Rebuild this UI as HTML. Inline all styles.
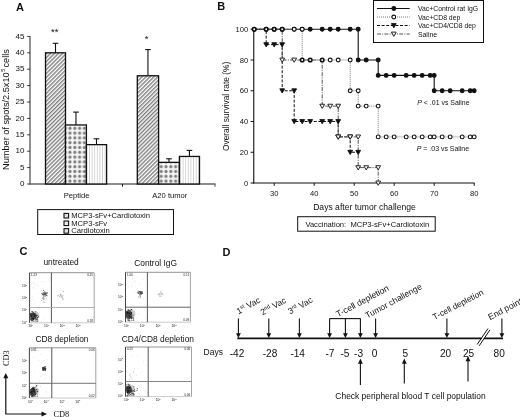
<!DOCTYPE html>
<html><head><meta charset="utf-8"><style>
html,body{margin:0;padding:0;background:#fff;}
svg{display:block;will-change:transform;}
text{font-family:"Liberation Sans", sans-serif;fill:#111;}
</style></head><body>
<svg width="520" height="417" viewBox="0 0 520 417">
<rect width="520" height="417" fill="#fff"/>
<defs>
<filter id="soft" x="-5%" y="-5%" width="110%" height="110%"><feGaussianBlur stdDeviation="0.35"/></filter>
<pattern id="hatch" patternUnits="userSpaceOnUse" width="2.8" height="2.8" patternTransform="rotate(45)">
<rect width="2.8" height="2.8" fill="#fff"/><line x1="0.7" y1="0" x2="0.7" y2="2.8" stroke="#7a7a7a" stroke-width="1.35"/></pattern>
<pattern id="dots" patternUnits="userSpaceOnUse" width="4.8" height="4.8" x="67.2" y="125.9">
<rect width="4.8" height="4.8" fill="#f6f6f6"/><circle cx="2.8" cy="2.4" r="1.6" fill="#808080"/></pattern>
<pattern id="vlines" patternUnits="userSpaceOnUse" width="2.6" height="4" x="88.2">
<rect width="2.6" height="4" fill="#fff"/><line x1="1.3" y1="0" x2="1.3" y2="4" stroke="#c8c8c8" stroke-width="0.8"/></pattern>
<pattern id="hatchs" patternUnits="userSpaceOnUse" width="2" height="2" patternTransform="rotate(45)">
<rect width="2" height="2" fill="#fff"/><line x1="0" y1="0" x2="0" y2="2" stroke="#666" stroke-width="0.9"/></pattern>
<pattern id="dotss" patternUnits="userSpaceOnUse" width="2" height="2"><rect width="2" height="2" fill="#fff"/><circle cx="1" cy="1" r="0.5" fill="#888"/></pattern>
<pattern id="vliness" patternUnits="userSpaceOnUse" width="1.6" height="2"><rect width="1.6" height="2" fill="#fff"/><line x1="0.8" y1="0" x2="0.8" y2="2" stroke="#aaa" stroke-width="0.6"/></pattern>
</defs>
<text x="16" y="11.4" font-size="11" font-weight="bold">A</text>
<line x1="30" y1="35.90" x2="30" y2="184.5" stroke="#555" stroke-width="1.3"/>
<line x1="27.2" y1="184.00" x2="30" y2="184.00" stroke="#333" stroke-width="1"/>
<text x="24.4" y="186.10" font-size="8" text-anchor="end">0</text>
<line x1="27.2" y1="167.60" x2="30" y2="167.60" stroke="#333" stroke-width="1"/>
<text x="24.4" y="169.70" font-size="8" text-anchor="end">5</text>
<line x1="27.2" y1="151.20" x2="30" y2="151.20" stroke="#333" stroke-width="1"/>
<text x="24.4" y="153.30" font-size="8" text-anchor="end">10</text>
<line x1="27.2" y1="134.80" x2="30" y2="134.80" stroke="#333" stroke-width="1"/>
<text x="24.4" y="136.90" font-size="8" text-anchor="end">15</text>
<line x1="27.2" y1="118.40" x2="30" y2="118.40" stroke="#333" stroke-width="1"/>
<text x="24.4" y="120.50" font-size="8" text-anchor="end">20</text>
<line x1="27.2" y1="102.00" x2="30" y2="102.00" stroke="#333" stroke-width="1"/>
<text x="24.4" y="104.10" font-size="8" text-anchor="end">25</text>
<line x1="27.2" y1="85.60" x2="30" y2="85.60" stroke="#333" stroke-width="1"/>
<text x="24.4" y="87.70" font-size="8" text-anchor="end">30</text>
<line x1="27.2" y1="69.20" x2="30" y2="69.20" stroke="#333" stroke-width="1"/>
<text x="24.4" y="71.30" font-size="8" text-anchor="end">35</text>
<line x1="27.2" y1="52.80" x2="30" y2="52.80" stroke="#333" stroke-width="1"/>
<text x="24.4" y="54.90" font-size="8" text-anchor="end">40</text>
<line x1="27.2" y1="36.40" x2="30" y2="36.40" stroke="#333" stroke-width="1"/>
<text x="24.4" y="38.50" font-size="8" text-anchor="end">45</text>
<line x1="29.5" y1="184" x2="215.5" y2="184" stroke="#666" stroke-width="1.3"/>
<line x1="122.5" y1="184" x2="122.5" y2="186.6" stroke="#111" stroke-width="1"/>
<line x1="215" y1="184" x2="215" y2="186.8" stroke="#555" stroke-width="1"/>
<text transform="translate(9.1,109.5) rotate(-90)" font-size="9.2" text-anchor="middle">Number of spots/2.5x10<tspan dy="-4" dx="0.6" font-size="5.6">5</tspan><tspan dy="4" dx="1.2">cells</tspan></text>
<line x1="55.50" y1="43.3" x2="55.50" y2="52.80" stroke="#111" stroke-width="1.1"/>
<line x1="52.70" y1="43.3" x2="58.30" y2="43.3" stroke="#111" stroke-width="1.1"/>
<rect x="45.5" y="52.80" width="20.00" height="131.20" fill="url(#hatch)" stroke="#111" stroke-width="1.3"/>
<line x1="75.95" y1="112.1" x2="75.95" y2="124.96" stroke="#111" stroke-width="1.1"/>
<line x1="73.15" y1="112.1" x2="78.75" y2="112.1" stroke="#111" stroke-width="1.1"/>
<rect x="65.5" y="124.96" width="20.90" height="59.04" fill="url(#dots)" stroke="#111" stroke-width="1.3"/>
<line x1="96.50" y1="138.8" x2="96.50" y2="144.64" stroke="#111" stroke-width="1.1"/>
<line x1="93.70" y1="138.8" x2="99.30" y2="138.8" stroke="#111" stroke-width="1.1"/>
<rect x="86.4" y="144.64" width="20.20" height="39.36" fill="url(#vlines)" stroke="#111" stroke-width="1.3"/>
<line x1="147.95" y1="49.6" x2="147.95" y2="75.76" stroke="#111" stroke-width="1.1"/>
<line x1="145.15" y1="49.6" x2="150.75" y2="49.6" stroke="#111" stroke-width="1.1"/>
<rect x="137.3" y="75.76" width="21.30" height="108.24" fill="url(#hatch)" stroke="#111" stroke-width="1.3"/>
<line x1="169.00" y1="158.8" x2="169.00" y2="162.35" stroke="#111" stroke-width="1.1"/>
<line x1="166.20" y1="158.8" x2="171.80" y2="158.8" stroke="#111" stroke-width="1.1"/>
<rect x="158.6" y="162.35" width="20.80" height="21.65" fill="url(#dots)" stroke="#111" stroke-width="1.3"/>
<line x1="189.45" y1="150.4" x2="189.45" y2="156.45" stroke="#111" stroke-width="1.1"/>
<line x1="186.65" y1="150.4" x2="192.25" y2="150.4" stroke="#111" stroke-width="1.1"/>
<rect x="179.4" y="156.45" width="20.10" height="27.55" fill="url(#vlines)" stroke="#111" stroke-width="1.3"/>
<text x="54.8" y="35.3" font-size="9.5" text-anchor="middle">**</text>
<text x="146.5" y="42.1" font-size="9.5" text-anchor="middle">*</text>
<text x="76.6" y="197.6" font-size="7.6" text-anchor="middle">Peptide</text>
<text x="169.8" y="197.8" font-size="7.6" text-anchor="middle">A20 tumor</text>
<rect x="37.7" y="209.6" width="135.8" height="24.9" fill="none" stroke="#111" stroke-width="1"/>
<rect x="64" y="213.40" width="4.6" height="4.6" fill="url(#hatchs)" stroke="#111" stroke-width="1.1"/>
<text x="71.3" y="218.20" font-size="7.6">MCP3-sFv+Cardiotoxin</text>
<rect x="64" y="221.00" width="4.6" height="4.6" fill="url(#dotss)" stroke="#111" stroke-width="1.1"/>
<text x="71.3" y="225.80" font-size="7.6">MCP3-sFv</text>
<rect x="64" y="228.60" width="4.6" height="4.6" fill="url(#vliness)" stroke="#111" stroke-width="1.1"/>
<text x="71.3" y="233.40" font-size="7.6">Cardiotoxin</text>
<text x="217.3" y="10.2" font-size="11" font-weight="bold">B</text>
<line x1="253.75" y1="28.75" x2="253.75" y2="183.5" stroke="#111" stroke-width="1.1"/>
<line x1="250.6" y1="183.00" x2="253.75" y2="183.00" stroke="#111" stroke-width="1"/>
<text x="248.2" y="185.70" font-size="7.6" text-anchor="end">0</text>
<line x1="250.6" y1="152.25" x2="253.75" y2="152.25" stroke="#111" stroke-width="1"/>
<text x="248.2" y="154.95" font-size="7.6" text-anchor="end">20</text>
<line x1="250.6" y1="121.50" x2="253.75" y2="121.50" stroke="#111" stroke-width="1"/>
<text x="248.2" y="124.20" font-size="7.6" text-anchor="end">40</text>
<line x1="250.6" y1="90.75" x2="253.75" y2="90.75" stroke="#111" stroke-width="1"/>
<text x="248.2" y="93.45" font-size="7.6" text-anchor="end">60</text>
<line x1="250.6" y1="60.00" x2="253.75" y2="60.00" stroke="#111" stroke-width="1"/>
<text x="248.2" y="62.70" font-size="7.6" text-anchor="end">80</text>
<line x1="250.6" y1="29.25" x2="253.75" y2="29.25" stroke="#111" stroke-width="1"/>
<text x="248.2" y="31.95" font-size="7.6" text-anchor="end">100</text>
<line x1="253.25" y1="183" x2="474.6" y2="183" stroke="#111" stroke-width="1.1"/>
<line x1="274.20" y1="183" x2="274.20" y2="185.8" stroke="#111" stroke-width="1"/>
<text x="274.20" y="196" font-size="7.6" text-anchor="middle">30</text>
<line x1="314.20" y1="183" x2="314.20" y2="185.8" stroke="#111" stroke-width="1"/>
<text x="314.20" y="196" font-size="7.6" text-anchor="middle">40</text>
<line x1="354.20" y1="183" x2="354.20" y2="185.8" stroke="#111" stroke-width="1"/>
<text x="354.20" y="196" font-size="7.6" text-anchor="middle">50</text>
<line x1="394.20" y1="183" x2="394.20" y2="185.8" stroke="#111" stroke-width="1"/>
<text x="394.20" y="196" font-size="7.6" text-anchor="middle">60</text>
<line x1="434.20" y1="183" x2="434.20" y2="185.8" stroke="#111" stroke-width="1"/>
<text x="434.20" y="196" font-size="7.6" text-anchor="middle">70</text>
<line x1="474.20" y1="183" x2="474.20" y2="185.8" stroke="#111" stroke-width="1"/>
<text x="474.20" y="196" font-size="7.6" text-anchor="middle">80</text>
<text transform="translate(229.2,106.4) rotate(-90)" font-size="8.4" text-anchor="middle">Overall survival rate (%)</text>
<text x="364.5" y="209.6" font-size="8.6" text-anchor="middle">Days after tumor challenge</text>
<rect x="297.7" y="216.7" width="137.5" height="14.5" fill="none" stroke="#111" stroke-width="1"/>
<text x="305.4" y="226.7" font-size="7.6" xml:space="preserve">Vaccination:  MCP3-sFv+Cardiotoxin</text>
<text x="417.3" y="105.1" font-size="6.95"><tspan font-style="italic">P</tspan> &lt; .01 vs Saline</text>
<text x="416.8" y="151" font-size="6.95"><tspan font-style="italic">P</tspan> = .03 vs Saline</text>
<path d="M254.20,29.25 H266.20 V44.62 H274.20 H282.20 V90.75 H294.20 V121.50 H302.20 H310.20 H322.20 H330.20 H338.20 V136.88 H350.20 V152.25 H358.20" fill="none" stroke="#111" stroke-width="1" stroke-dasharray="3,1.6"/>
<path d="M254.20,29.25 H266.20 H274.20 H282.20 V60.00 H294.20 H302.20 H310.20 H322.20 V106.12 H330.20 H338.20 V136.88 H350.20 H358.20 V167.62 H366.20 H378.20 V183.00" fill="none" stroke="#555" stroke-width="1" stroke-dasharray="4,1.2,1,1.2"/>
<path d="M254.20,29.25 H266.20 H274.20 H282.20 H294.20 H302.20 H310.20 H322.20 H330.20 H338.20 H350.20 H358.20 V60.00 H366.20 H378.20 V75.38 H386.20 H394.20 H406.20 H414.20 H422.20 H430.20 H434.20 V90.75 H442.20 H450.20 H462.20 H470.20 H474.20" fill="none" stroke="#111" stroke-width="1.1"/>
<path d="M254.20,29.25 H266.20 H274.20 H282.20 H294.20 H302.20 V60.00 H310.20 H322.20 H330.20 H338.20 H350.20 V90.75 H358.20 V106.12 H366.20 H378.20 V136.88 H386.20 H394.20 H406.20 H414.20 H422.20 H430.20 H434.20 H442.20 H450.20 H462.20 H470.20 H474.20" fill="none" stroke="#777" stroke-width="1" stroke-dasharray="1,1"/>
<path d="M263.80,42.73 H268.60 L266.20,46.92 Z" fill="#111" stroke="#111" stroke-width="0.9"/>
<path d="M271.80,42.73 H276.60 L274.20,46.92 Z" fill="#111" stroke="#111" stroke-width="0.9"/>
<path d="M279.80,42.73 H284.60 L282.20,46.92 Z" fill="#111" stroke="#111" stroke-width="0.9"/>
<path d="M279.80,88.85 H284.60 L282.20,93.05 Z" fill="#111" stroke="#111" stroke-width="0.9"/>
<path d="M291.80,88.85 H296.60 L294.20,93.05 Z" fill="#111" stroke="#111" stroke-width="0.9"/>
<path d="M291.80,119.60 H296.60 L294.20,123.80 Z" fill="#111" stroke="#111" stroke-width="0.9"/>
<path d="M299.80,119.60 H304.60 L302.20,123.80 Z" fill="#111" stroke="#111" stroke-width="0.9"/>
<path d="M307.80,119.60 H312.60 L310.20,123.80 Z" fill="#111" stroke="#111" stroke-width="0.9"/>
<path d="M319.80,119.60 H324.60 L322.20,123.80 Z" fill="#111" stroke="#111" stroke-width="0.9"/>
<path d="M327.80,119.60 H332.60 L330.20,123.80 Z" fill="#111" stroke="#111" stroke-width="0.9"/>
<path d="M335.80,119.60 H340.60 L338.20,123.80 Z" fill="#111" stroke="#111" stroke-width="0.9"/>
<path d="M335.80,134.97 H340.60 L338.20,139.18 Z" fill="#111" stroke="#111" stroke-width="0.9"/>
<path d="M347.80,134.97 H352.60 L350.20,139.18 Z" fill="#111" stroke="#111" stroke-width="0.9"/>
<path d="M347.80,150.35 H352.60 L350.20,154.55 Z" fill="#111" stroke="#111" stroke-width="0.9"/>
<path d="M355.80,150.35 H360.60 L358.20,154.55 Z" fill="#111" stroke="#111" stroke-width="0.9"/>
<path d="M279.80,58.10 H284.60 L282.20,62.30 Z" fill="#fff" stroke="#111" stroke-width="0.9"/>
<path d="M291.80,58.10 H296.60 L294.20,62.30 Z" fill="#fff" stroke="#111" stroke-width="0.9"/>
<path d="M319.80,104.22 H324.60 L322.20,108.42 Z" fill="#fff" stroke="#111" stroke-width="0.9"/>
<path d="M327.80,104.22 H332.60 L330.20,108.42 Z" fill="#fff" stroke="#111" stroke-width="0.9"/>
<path d="M335.80,104.22 H340.60 L338.20,108.42 Z" fill="#fff" stroke="#111" stroke-width="0.9"/>
<path d="M335.80,134.97 H340.60 L338.20,139.18 Z" fill="#fff" stroke="#111" stroke-width="0.9"/>
<path d="M347.80,134.97 H352.60 L350.20,139.18 Z" fill="#fff" stroke="#111" stroke-width="0.9"/>
<path d="M355.80,134.97 H360.60 L358.20,139.18 Z" fill="#fff" stroke="#111" stroke-width="0.9"/>
<path d="M355.80,165.72 H360.60 L358.20,169.93 Z" fill="#fff" stroke="#111" stroke-width="0.9"/>
<path d="M363.80,165.72 H368.60 L366.20,169.93 Z" fill="#fff" stroke="#111" stroke-width="0.9"/>
<path d="M375.80,165.72 H380.60 L378.20,169.93 Z" fill="#fff" stroke="#111" stroke-width="0.9"/>
<path d="M375.80,181.10 H380.60 L378.20,185.30 Z" fill="#fff" stroke="#111" stroke-width="0.9"/>
<circle cx="254.20" cy="29.25" r="1.9" fill="#111" stroke="#111" stroke-width="1.1"/>
<circle cx="266.20" cy="29.25" r="1.9" fill="#111" stroke="#111" stroke-width="1.1"/>
<circle cx="274.20" cy="29.25" r="1.9" fill="#111" stroke="#111" stroke-width="1.1"/>
<circle cx="282.20" cy="29.25" r="1.9" fill="#111" stroke="#111" stroke-width="1.1"/>
<circle cx="294.20" cy="29.25" r="1.9" fill="#111" stroke="#111" stroke-width="1.1"/>
<circle cx="302.20" cy="29.25" r="1.9" fill="#111" stroke="#111" stroke-width="1.1"/>
<circle cx="310.20" cy="29.25" r="1.9" fill="#111" stroke="#111" stroke-width="1.1"/>
<circle cx="322.20" cy="29.25" r="1.9" fill="#111" stroke="#111" stroke-width="1.1"/>
<circle cx="330.20" cy="29.25" r="1.9" fill="#111" stroke="#111" stroke-width="1.1"/>
<circle cx="338.20" cy="29.25" r="1.9" fill="#111" stroke="#111" stroke-width="1.1"/>
<circle cx="350.20" cy="29.25" r="1.9" fill="#111" stroke="#111" stroke-width="1.1"/>
<circle cx="358.20" cy="29.25" r="1.9" fill="#111" stroke="#111" stroke-width="1.1"/>
<circle cx="358.20" cy="60.00" r="1.9" fill="#111" stroke="#111" stroke-width="1.1"/>
<circle cx="366.20" cy="60.00" r="1.9" fill="#111" stroke="#111" stroke-width="1.1"/>
<circle cx="378.20" cy="60.00" r="1.9" fill="#111" stroke="#111" stroke-width="1.1"/>
<circle cx="378.20" cy="75.38" r="1.9" fill="#111" stroke="#111" stroke-width="1.1"/>
<circle cx="386.20" cy="75.38" r="1.9" fill="#111" stroke="#111" stroke-width="1.1"/>
<circle cx="394.20" cy="75.38" r="1.9" fill="#111" stroke="#111" stroke-width="1.1"/>
<circle cx="406.20" cy="75.38" r="1.9" fill="#111" stroke="#111" stroke-width="1.1"/>
<circle cx="414.20" cy="75.38" r="1.9" fill="#111" stroke="#111" stroke-width="1.1"/>
<circle cx="422.20" cy="75.38" r="1.9" fill="#111" stroke="#111" stroke-width="1.1"/>
<circle cx="430.20" cy="75.38" r="1.9" fill="#111" stroke="#111" stroke-width="1.1"/>
<circle cx="434.20" cy="75.38" r="1.9" fill="#111" stroke="#111" stroke-width="1.1"/>
<circle cx="434.20" cy="90.75" r="1.9" fill="#111" stroke="#111" stroke-width="1.1"/>
<circle cx="442.20" cy="90.75" r="1.9" fill="#111" stroke="#111" stroke-width="1.1"/>
<circle cx="450.20" cy="90.75" r="1.9" fill="#111" stroke="#111" stroke-width="1.1"/>
<circle cx="462.20" cy="90.75" r="1.9" fill="#111" stroke="#111" stroke-width="1.1"/>
<circle cx="470.20" cy="90.75" r="1.9" fill="#111" stroke="#111" stroke-width="1.1"/>
<circle cx="474.20" cy="90.75" r="1.9" fill="#111" stroke="#111" stroke-width="1.1"/>
<circle cx="254.20" cy="29.25" r="1.75" fill="#fff" stroke="#111" stroke-width="1.6"/>
<circle cx="266.20" cy="29.25" r="1.75" fill="#fff" stroke="#111" stroke-width="1.6"/>
<circle cx="274.20" cy="29.25" r="1.75" fill="#fff" stroke="#111" stroke-width="1.6"/>
<circle cx="282.20" cy="29.25" r="1.75" fill="#fff" stroke="#111" stroke-width="1.6"/>
<circle cx="294.20" cy="29.25" r="1.9" fill="#fff" stroke="#111" stroke-width="1.1"/>
<circle cx="302.20" cy="29.25" r="1.9" fill="#fff" stroke="#111" stroke-width="1.1"/>
<circle cx="302.20" cy="60.00" r="1.75" fill="#fff" stroke="#111" stroke-width="1.6"/>
<circle cx="310.20" cy="60.00" r="1.75" fill="#fff" stroke="#111" stroke-width="1.6"/>
<circle cx="322.20" cy="60.00" r="1.75" fill="#fff" stroke="#111" stroke-width="1.6"/>
<circle cx="330.20" cy="60.00" r="1.9" fill="#fff" stroke="#111" stroke-width="1.1"/>
<circle cx="338.20" cy="60.00" r="1.9" fill="#fff" stroke="#111" stroke-width="1.1"/>
<circle cx="350.20" cy="60.00" r="1.9" fill="#fff" stroke="#111" stroke-width="1.1"/>
<circle cx="350.20" cy="90.75" r="1.9" fill="#fff" stroke="#111" stroke-width="1.1"/>
<circle cx="358.20" cy="90.75" r="1.9" fill="#fff" stroke="#111" stroke-width="1.1"/>
<circle cx="358.20" cy="106.12" r="1.9" fill="#fff" stroke="#111" stroke-width="1.1"/>
<circle cx="366.20" cy="106.12" r="1.9" fill="#fff" stroke="#111" stroke-width="1.1"/>
<circle cx="378.20" cy="106.12" r="1.9" fill="#fff" stroke="#111" stroke-width="1.1"/>
<circle cx="378.20" cy="136.88" r="1.9" fill="#fff" stroke="#111" stroke-width="1.1"/>
<circle cx="386.20" cy="136.88" r="1.9" fill="#fff" stroke="#111" stroke-width="1.1"/>
<circle cx="394.20" cy="136.88" r="1.9" fill="#fff" stroke="#111" stroke-width="1.1"/>
<circle cx="406.20" cy="136.88" r="1.9" fill="#fff" stroke="#111" stroke-width="1.1"/>
<circle cx="414.20" cy="136.88" r="1.9" fill="#fff" stroke="#111" stroke-width="1.1"/>
<circle cx="422.20" cy="136.88" r="1.9" fill="#fff" stroke="#111" stroke-width="1.1"/>
<circle cx="430.20" cy="136.88" r="1.9" fill="#fff" stroke="#111" stroke-width="1.1"/>
<circle cx="434.20" cy="136.88" r="1.9" fill="#fff" stroke="#111" stroke-width="1.1"/>
<circle cx="442.20" cy="136.88" r="1.9" fill="#fff" stroke="#111" stroke-width="1.1"/>
<circle cx="450.20" cy="136.88" r="1.9" fill="#fff" stroke="#111" stroke-width="1.1"/>
<circle cx="462.20" cy="136.88" r="1.9" fill="#fff" stroke="#111" stroke-width="1.1"/>
<circle cx="470.20" cy="136.88" r="1.9" fill="#fff" stroke="#111" stroke-width="1.1"/>
<circle cx="474.20" cy="136.88" r="1.9" fill="#fff" stroke="#111" stroke-width="1.1"/>
<rect x="373.5" y="0.5" width="110" height="42" fill="#fff" stroke="#111" stroke-width="1"/>
<line x1="377" y1="8.5" x2="409.7" y2="8.5" stroke="#111" stroke-width="1.1"/>
<circle cx="393.80" cy="8.50" r="1.9" fill="#111" stroke="#111" stroke-width="1.1"/>
<text x="418" y="11.20" font-size="6.85">Vac+Control rat IgG</text>
<line x1="377" y1="17.0" x2="409.7" y2="17.0" stroke="#777" stroke-width="1" stroke-dasharray="1,1"/>
<circle cx="393.80" cy="17.00" r="1.9" fill="#fff" stroke="#111" stroke-width="1.1"/>
<text x="418" y="19.70" font-size="6.85">Vac+CD8 dep</text>
<line x1="377" y1="25.5" x2="409.7" y2="25.5" stroke="#111" stroke-width="1" stroke-dasharray="3,1.6"/>
<path d="M391.40,23.60 H396.20 L393.80,27.80 Z" fill="#111" stroke="#111" stroke-width="0.9"/>
<text x="418" y="28.20" font-size="6.85">Vac+CD4/CD8 dep</text>
<line x1="377" y1="34.0" x2="409.7" y2="34.0" stroke="#555" stroke-width="1" stroke-dasharray="4,1.2,1,1.2"/>
<path d="M391.40,32.10 H396.20 L393.80,36.30 Z" fill="#fff" stroke="#111" stroke-width="0.9"/>
<text x="418" y="36.70" font-size="6.85">Saline</text>
<text x="19.4" y="255.2" font-size="11" font-weight="bold">C</text>
<text x="61.1" y="264.8" font-size="8.4" text-anchor="middle">untreated</text>
<g filter="url(#soft)">
<line x1="29.6" y1="272.7" x2="94.2" y2="272.7" stroke="#888" stroke-width="0.9"/>
<line x1="94.2" y1="272.7" x2="94.2" y2="322.8" stroke="#999" stroke-width="0.9"/>
<line x1="29.6" y1="322.8" x2="94.2" y2="322.8" stroke="#bbb" stroke-width="0.8"/>
<line x1="29.6" y1="272.7" x2="29.6" y2="322.8" stroke="#444" stroke-width="1"/>
<line x1="51.4" y1="272.7" x2="51.4" y2="322.8" stroke="#555" stroke-width="1"/>
<line x1="29.6" y1="307.5" x2="94.2" y2="307.5" stroke="#aaa" stroke-width="0.9"/>
<rect x="37.4" y="284.9" width="0.7" height="0.7" fill="#ccc"/>
<rect x="43.2" y="281.7" width="0.7" height="0.7" fill="#ccc"/>
<rect x="41.1" y="293.7" width="0.7" height="0.7" fill="#ccc"/>
<rect x="32.6" y="299.6" width="0.7" height="0.7" fill="#ccc"/>
<rect x="32.3" y="296.5" width="0.7" height="0.7" fill="#ccc"/>
<rect x="32.8" y="282.4" width="0.7" height="0.7" fill="#ccc"/>
<rect x="39.2" y="312.7" width="0.7" height="0.7" fill="#ccc"/>
<rect x="33.8" y="287.9" width="0.7" height="0.7" fill="#ccc"/>
<rect x="42.8" y="317.7" width="0.7" height="0.7" fill="#ccc"/>
<rect x="41.9" y="295.0" width="0.7" height="0.7" fill="#ccc"/>
<rect x="49.0" y="280.6" width="0.7" height="0.7" fill="#ccc"/>
<rect x="46.9" y="290.6" width="0.7" height="0.7" fill="#ccc"/>
<rect x="34.2" y="283.5" width="0.7" height="0.7" fill="#ccc"/>
<rect x="37.1" y="312.2" width="0.7" height="0.7" fill="#ccc"/>
<rect x="34.8" y="302.6" width="0.7" height="0.7" fill="#ccc"/>
<rect x="43.0" y="294.0" width="0.7" height="0.7" fill="#ccc"/>
<rect x="41.3" y="281.3" width="0.7" height="0.7" fill="#ccc"/>
<rect x="32.7" y="287.2" width="0.7" height="0.7" fill="#ccc"/>
<clipPath id="cp0"><rect x="29.6" y="272.7" width="64.60" height="50.10"/></clipPath><g clip-path="url(#cp0)">
<ellipse cx="34.800000000000004" cy="315.3" rx="4.6" ry="4.0" fill="#888" opacity="0.4"/>
<ellipse cx="32.800000000000004" cy="316.3" rx="3.6" ry="3.2" fill="#333" opacity="0.7"/>
<rect x="31.5" y="313.5" width="1" height="1" fill="#333"/><rect x="36.8" y="317.0" width="1" height="1" fill="#333"/><rect x="31.8" y="319.9" width="1" height="1" fill="#222"/><rect x="32.4" y="316.8" width="1" height="1" fill="#444"/><rect x="33.6" y="313.1" width="1" height="1" fill="#333"/><rect x="31.1" y="315.2" width="1" height="1" fill="#666"/><rect x="34.6" y="317.8" width="1" height="1" fill="#222"/><rect x="33.1" y="314.8" width="1" height="1" fill="#111"/><rect x="30.6" y="312.7" width="1" height="1" fill="#333"/><rect x="31.7" y="317.7" width="1" height="1" fill="#444"/><rect x="33.1" y="314.5" width="1" height="1" fill="#111"/><rect x="33.4" y="314.9" width="1" height="1" fill="#111"/><rect x="34.5" y="317.2" width="1" height="1" fill="#666"/><rect x="35.8" y="315.6" width="1" height="1" fill="#333"/><rect x="31.5" y="310.9" width="1" height="1" fill="#333"/><rect x="33.5" y="316.2" width="1" height="1" fill="#222"/><rect x="32.9" y="314.0" width="1" height="1" fill="#222"/><rect x="30.4" y="314.5" width="1" height="1" fill="#222"/><rect x="35.6" y="319.0" width="1" height="1" fill="#444"/><rect x="33.1" y="317.1" width="1" height="1" fill="#666"/><rect x="30.5" y="317.1" width="1" height="1" fill="#444"/><rect x="31.8" y="314.3" width="1" height="1" fill="#444"/><rect x="34.7" y="315.5" width="1" height="1" fill="#444"/><rect x="31.9" y="315.4" width="1" height="1" fill="#222"/><rect x="32.8" y="318.7" width="1" height="1" fill="#111"/><rect x="34.2" y="316.1" width="1" height="1" fill="#333"/><rect x="30.5" y="317.1" width="1" height="1" fill="#666"/><rect x="32.8" y="318.1" width="1" height="1" fill="#222"/><rect x="31.5" y="313.1" width="1" height="1" fill="#666"/><rect x="33.0" y="312.5" width="1" height="1" fill="#444"/><rect x="34.4" y="313.3" width="1" height="1" fill="#666"/><rect x="32.6" y="317.3" width="1" height="1" fill="#111"/><rect x="33.2" y="316.1" width="1" height="1" fill="#222"/><rect x="32.1" y="316.5" width="1" height="1" fill="#222"/><rect x="33.3" y="317.9" width="1" height="1" fill="#111"/><rect x="31.9" y="315.8" width="1" height="1" fill="#111"/><rect x="34.1" y="314.8" width="1" height="1" fill="#111"/><rect x="33.1" y="313.4" width="1" height="1" fill="#222"/><rect x="35.2" y="311.3" width="1" height="1" fill="#666"/><rect x="31.2" y="316.7" width="1" height="1" fill="#444"/><rect x="33.6" y="315.7" width="1" height="1" fill="#444"/><rect x="30.8" y="317.0" width="1" height="1" fill="#333"/><rect x="30.4" y="313.1" width="1" height="1" fill="#222"/><rect x="32.2" y="315.6" width="1" height="1" fill="#666"/><rect x="33.2" y="318.6" width="1" height="1" fill="#111"/><rect x="30.3" y="313.8" width="1" height="1" fill="#111"/><rect x="31.0" y="314.0" width="1" height="1" fill="#333"/><rect x="32.6" y="314.6" width="1" height="1" fill="#222"/><rect x="35.3" y="315.0" width="1" height="1" fill="#333"/><rect x="32.9" y="313.3" width="1" height="1" fill="#222"/><rect x="32.1" y="311.6" width="1" height="1" fill="#222"/><rect x="31.3" y="318.5" width="1" height="1" fill="#111"/><rect x="35.5" y="315.5" width="1" height="1" fill="#444"/><rect x="30.5" y="319.5" width="1" height="1" fill="#333"/><rect x="36.9" y="317.6" width="1" height="1" fill="#333"/><rect x="32.9" y="315.2" width="1" height="1" fill="#222"/><rect x="32.9" y="317.4" width="1" height="1" fill="#333"/><rect x="31.4" y="319.0" width="1" height="1" fill="#666"/><rect x="32.0" y="313.5" width="1" height="1" fill="#333"/><rect x="30.6" y="314.8" width="1" height="1" fill="#111"/><rect x="34.6" y="313.5" width="1" height="1" fill="#222"/><rect x="32.1" y="316.0" width="1" height="1" fill="#333"/><rect x="36.4" y="318.8" width="1" height="1" fill="#444"/><rect x="35.0" y="316.7" width="1" height="1" fill="#111"/><rect x="30.5" y="314.4" width="1" height="1" fill="#222"/><rect x="34.2" y="316.4" width="1" height="1" fill="#444"/><rect x="30.8" y="314.5" width="1" height="1" fill="#666"/><rect x="34.6" y="315.4" width="1" height="1" fill="#333"/><rect x="32.3" y="318.3" width="1" height="1" fill="#111"/><rect x="38.1" y="316.4" width="1" height="1" fill="#111"/><rect x="37.1" y="314.9" width="1" height="1" fill="#444"/><rect x="32.2" y="315.7" width="1" height="1" fill="#222"/><rect x="32.2" y="316.1" width="1" height="1" fill="#666"/><rect x="30.4" y="319.0" width="1" height="1" fill="#333"/><rect x="35.7" y="314.5" width="1" height="1" fill="#111"/><rect x="32.6" y="314.6" width="1" height="1" fill="#444"/><rect x="33.1" y="312.0" width="1" height="1" fill="#666"/><rect x="36.1" y="318.4" width="1" height="1" fill="#666"/><rect x="31.4" y="316.8" width="1" height="1" fill="#666"/><rect x="33.4" y="316.1" width="1" height="1" fill="#222"/><rect x="34.2" y="313.2" width="1" height="1" fill="#222"/><rect x="31.8" y="318.2" width="1" height="1" fill="#111"/><rect x="32.7" y="315.1" width="1" height="1" fill="#666"/><rect x="33.6" y="315.3" width="1" height="1" fill="#111"/><rect x="31.0" y="315.3" width="1" height="1" fill="#222"/><rect x="31.1" y="319.9" width="1" height="1" fill="#666"/><rect x="30.9" y="316.0" width="1" height="1" fill="#111"/><rect x="34.1" y="317.0" width="1" height="1" fill="#666"/><rect x="31.8" y="314.8" width="1" height="1" fill="#333"/><rect x="33.7" y="316.7" width="1" height="1" fill="#444"/>
</g>
<ellipse cx="44.7" cy="293.8" rx="2.8" ry="1.8" fill="#999" opacity="0.8"/>
<rect x="43.2" y="293.5" width="0.9" height="0.9" fill="#555" opacity="1.0"/><rect x="41.4" y="293.2" width="0.9" height="0.9" fill="#555" opacity="1.0"/><rect x="47.1" y="292.4" width="0.9" height="0.9" fill="#555" opacity="1.0"/><rect x="45.0" y="293.0" width="0.9" height="0.9" fill="#555" opacity="1.0"/><rect x="42.9" y="294.0" width="0.9" height="0.9" fill="#555" opacity="1.0"/><rect x="43.3" y="294.2" width="0.9" height="0.9" fill="#555" opacity="1.0"/><rect x="43.5" y="292.4" width="0.9" height="0.9" fill="#555" opacity="1.0"/><rect x="44.5" y="294.5" width="0.9" height="0.9" fill="#555" opacity="1.0"/><rect x="46.0" y="295.0" width="0.9" height="0.9" fill="#555" opacity="1.0"/><rect x="46.1" y="292.9" width="0.9" height="0.9" fill="#555" opacity="1.0"/><rect x="43.5" y="294.2" width="0.9" height="0.9" fill="#555" opacity="1.0"/><rect x="45.3" y="294.6" width="0.9" height="0.9" fill="#555" opacity="1.0"/><rect x="44.2" y="293.0" width="0.9" height="0.9" fill="#555" opacity="1.0"/><rect x="44.9" y="293.1" width="0.9" height="0.9" fill="#555" opacity="1.0"/><rect x="43.8" y="292.8" width="0.9" height="0.9" fill="#555" opacity="1.0"/><rect x="43.0" y="289.9" width="0.9" height="0.9" fill="#555" opacity="1.0"/><rect x="43.0" y="294.3" width="0.9" height="0.9" fill="#555" opacity="1.0"/><rect x="43.9" y="294.0" width="0.9" height="0.9" fill="#555" opacity="1.0"/><rect x="43.4" y="294.4" width="0.9" height="0.9" fill="#555" opacity="1.0"/><rect x="42.1" y="294.0" width="0.9" height="0.9" fill="#555" opacity="1.0"/><rect x="43.0" y="294.5" width="0.9" height="0.9" fill="#555" opacity="1.0"/><rect x="43.2" y="296.5" width="0.9" height="0.9" fill="#555" opacity="1.0"/><rect x="46.6" y="295.3" width="0.9" height="0.9" fill="#555" opacity="1.0"/><rect x="44.6" y="296.0" width="0.9" height="0.9" fill="#555" opacity="1.0"/><rect x="45.2" y="294.0" width="0.9" height="0.9" fill="#555" opacity="1.0"/><rect x="45.0" y="293.1" width="0.9" height="0.9" fill="#555" opacity="1.0"/><rect x="44.3" y="291.3" width="0.9" height="0.9" fill="#555" opacity="1.0"/><rect x="45.5" y="292.1" width="0.9" height="0.9" fill="#555" opacity="1.0"/><rect x="45.6" y="293.1" width="0.9" height="0.9" fill="#555" opacity="1.0"/><rect x="42.6" y="293.2" width="0.9" height="0.9" fill="#555" opacity="1.0"/>
<rect x="42.2" y="298.1" width="0.9" height="0.9" fill="#999" opacity="1.0"/><rect x="42.8" y="301.6" width="0.9" height="0.9" fill="#999" opacity="1.0"/><rect x="43.8" y="301.9" width="0.9" height="0.9" fill="#999" opacity="1.0"/><rect x="43.0" y="298.4" width="0.9" height="0.9" fill="#999" opacity="1.0"/><rect x="43.6" y="298.9" width="0.9" height="0.9" fill="#999" opacity="1.0"/><rect x="42.6" y="297.2" width="0.9" height="0.9" fill="#999" opacity="1.0"/><rect x="43.0" y="299.1" width="0.9" height="0.9" fill="#999" opacity="1.0"/><rect x="45.9" y="298.5" width="0.9" height="0.9" fill="#999" opacity="1.0"/><rect x="41.3" y="300.2" width="0.9" height="0.9" fill="#999" opacity="1.0"/><rect x="42.9" y="297.6" width="0.9" height="0.9" fill="#999" opacity="1.0"/><rect x="42.5" y="293.5" width="0.9" height="0.9" fill="#999" opacity="1.0"/><rect x="43.7" y="297.8" width="0.9" height="0.9" fill="#999" opacity="1.0"/>
<rect x="62.7" y="298.7" width="0.9" height="0.9" fill="#999" opacity="1.0"/><rect x="60.0" y="294.2" width="0.9" height="0.9" fill="#999" opacity="1.0"/><rect x="61.7" y="297.1" width="0.9" height="0.9" fill="#999" opacity="1.0"/><rect x="60.7" y="294.5" width="0.9" height="0.9" fill="#999" opacity="1.0"/><rect x="62.9" y="291.0" width="0.9" height="0.9" fill="#999" opacity="1.0"/><rect x="61.5" y="295.6" width="0.9" height="0.9" fill="#999" opacity="1.0"/><rect x="57.1" y="295.4" width="0.9" height="0.9" fill="#999" opacity="1.0"/><rect x="60.1" y="295.4" width="0.9" height="0.9" fill="#999" opacity="1.0"/><rect x="59.2" y="296.3" width="0.9" height="0.9" fill="#999" opacity="1.0"/><rect x="60.0" y="293.8" width="0.9" height="0.9" fill="#999" opacity="1.0"/><rect x="58.2" y="294.7" width="0.9" height="0.9" fill="#999" opacity="1.0"/><rect x="62.5" y="295.3" width="0.9" height="0.9" fill="#999" opacity="1.0"/><rect x="61.5" y="296.6" width="0.9" height="0.9" fill="#999" opacity="1.0"/><rect x="62.2" y="298.5" width="0.9" height="0.9" fill="#999" opacity="1.0"/>
</g>
<text x="27.0" y="323.6" font-size="3.3" fill="#777" text-anchor="end">10<tspan font-size="2.2" dy="-1.2">0</tspan></text>
<text x="30.6" y="327.4" font-size="3.3" fill="#777" text-anchor="middle">10<tspan font-size="2.2" dy="-1.2">0</tspan></text>
<text x="27.0" y="311.3" font-size="3.3" fill="#777" text-anchor="end">10<tspan font-size="2.2" dy="-1.2">1</tspan></text>
<text x="46.4" y="327.4" font-size="3.3" fill="#777" text-anchor="middle">10<tspan font-size="2.2" dy="-1.2">1</tspan></text>
<text x="27.0" y="299.0" font-size="3.3" fill="#777" text-anchor="end">10<tspan font-size="2.2" dy="-1.2">2</tspan></text>
<text x="62.2" y="327.4" font-size="3.3" fill="#777" text-anchor="middle">10<tspan font-size="2.2" dy="-1.2">2</tspan></text>
<text x="27.0" y="286.7" font-size="3.3" fill="#777" text-anchor="end">10<tspan font-size="2.2" dy="-1.2">3</tspan></text>
<text x="78.0" y="327.4" font-size="3.3" fill="#777" text-anchor="middle">10<tspan font-size="2.2" dy="-1.2">3</tspan></text>
<text x="31.0" y="275.9" font-size="3" fill="#555">1.23</text>
<text x="93.0" y="275.9" font-size="3" fill="#555" text-anchor="end">0.15</text>
<text x="31.0" y="322.0" font-size="3" fill="#333">93.64</text>
<text x="93.0" y="322.0" font-size="3" fill="#555" text-anchor="end">0.18</text>
<text x="155.6" y="265.6" font-size="8.4" text-anchor="middle">Control IgG</text>
<g filter="url(#soft)">
<line x1="125.5" y1="272.3" x2="190.4" y2="272.3" stroke="#888" stroke-width="0.9"/>
<line x1="190.4" y1="272.3" x2="190.4" y2="322.2" stroke="#999" stroke-width="0.9"/>
<line x1="125.5" y1="322.2" x2="190.4" y2="322.2" stroke="#bbb" stroke-width="0.8"/>
<line x1="125.5" y1="272.3" x2="125.5" y2="322.2" stroke="#444" stroke-width="1"/>
<line x1="147.4" y1="272.3" x2="147.4" y2="322.2" stroke="#555" stroke-width="1"/>
<line x1="125.5" y1="307.2" x2="190.4" y2="307.2" stroke="#555" stroke-width="0.9"/>
<rect x="140.5" y="284.0" width="0.7" height="0.7" fill="#ccc"/>
<rect x="145.2" y="318.5" width="0.7" height="0.7" fill="#ccc"/>
<rect x="142.5" y="278.9" width="0.7" height="0.7" fill="#ccc"/>
<rect x="138.7" y="314.3" width="0.7" height="0.7" fill="#ccc"/>
<rect x="135.2" y="280.6" width="0.7" height="0.7" fill="#ccc"/>
<rect x="139.4" y="293.9" width="0.7" height="0.7" fill="#ccc"/>
<rect x="136.6" y="318.0" width="0.7" height="0.7" fill="#ccc"/>
<rect x="138.2" y="306.6" width="0.7" height="0.7" fill="#ccc"/>
<rect x="128.3" y="285.9" width="0.7" height="0.7" fill="#ccc"/>
<rect x="132.3" y="278.4" width="0.7" height="0.7" fill="#ccc"/>
<rect x="134.0" y="291.8" width="0.7" height="0.7" fill="#ccc"/>
<rect x="145.1" y="291.5" width="0.7" height="0.7" fill="#ccc"/>
<rect x="128.1" y="314.4" width="0.7" height="0.7" fill="#ccc"/>
<rect x="131.4" y="285.8" width="0.7" height="0.7" fill="#ccc"/>
<rect x="133.5" y="281.7" width="0.7" height="0.7" fill="#ccc"/>
<rect x="132.5" y="305.1" width="0.7" height="0.7" fill="#ccc"/>
<rect x="131.9" y="310.0" width="0.7" height="0.7" fill="#ccc"/>
<rect x="129.1" y="311.7" width="0.7" height="0.7" fill="#ccc"/>
<clipPath id="cp1"><rect x="125.5" y="272.3" width="64.90" height="49.90"/></clipPath><g clip-path="url(#cp1)">
<ellipse cx="130.7" cy="313.7" rx="4.6" ry="5.0" fill="#888" opacity="0.4"/>
<ellipse cx="128.7" cy="314.7" rx="3.6" ry="4.2" fill="#333" opacity="0.7"/>
<rect x="128.6" y="316.7" width="1" height="1" fill="#444"/><rect x="128.6" y="314.5" width="1" height="1" fill="#222"/><rect x="132.6" y="317.3" width="1" height="1" fill="#222"/><rect x="128.7" y="311.0" width="1" height="1" fill="#666"/><rect x="128.1" y="315.6" width="1" height="1" fill="#444"/><rect x="128.9" y="317.3" width="1" height="1" fill="#222"/><rect x="131.6" y="315.4" width="1" height="1" fill="#666"/><rect x="129.5" y="311.4" width="1" height="1" fill="#666"/><rect x="128.4" y="316.4" width="1" height="1" fill="#666"/><rect x="131.1" y="312.4" width="1" height="1" fill="#111"/><rect x="127.9" y="311.4" width="1" height="1" fill="#222"/><rect x="126.9" y="314.6" width="1" height="1" fill="#333"/><rect x="128.9" y="313.6" width="1" height="1" fill="#444"/><rect x="130.0" y="313.0" width="1" height="1" fill="#666"/><rect x="127.6" y="311.7" width="1" height="1" fill="#111"/><rect x="127.2" y="314.4" width="1" height="1" fill="#666"/><rect x="127.2" y="313.6" width="1" height="1" fill="#666"/><rect x="130.6" y="315.8" width="1" height="1" fill="#333"/><rect x="128.2" y="309.9" width="1" height="1" fill="#222"/><rect x="126.4" y="312.6" width="1" height="1" fill="#444"/><rect x="129.0" y="314.3" width="1" height="1" fill="#444"/><rect x="128.2" y="313.1" width="1" height="1" fill="#111"/><rect x="129.3" y="311.9" width="1" height="1" fill="#111"/><rect x="128.3" y="312.9" width="1" height="1" fill="#333"/><rect x="127.3" y="313.3" width="1" height="1" fill="#444"/><rect x="128.3" y="314.9" width="1" height="1" fill="#111"/><rect x="127.7" y="310.8" width="1" height="1" fill="#333"/><rect x="126.7" y="312.3" width="1" height="1" fill="#444"/><rect x="127.6" y="314.5" width="1" height="1" fill="#666"/><rect x="128.7" y="320.5" width="1" height="1" fill="#444"/><rect x="129.4" y="314.5" width="1" height="1" fill="#666"/><rect x="129.3" y="313.7" width="1" height="1" fill="#333"/><rect x="131.2" y="317.7" width="1" height="1" fill="#222"/><rect x="127.3" y="314.7" width="1" height="1" fill="#666"/><rect x="126.3" y="316.5" width="1" height="1" fill="#666"/><rect x="127.6" y="311.6" width="1" height="1" fill="#111"/><rect x="126.7" y="312.5" width="1" height="1" fill="#444"/><rect x="127.5" y="315.1" width="1" height="1" fill="#444"/><rect x="127.4" y="312.0" width="1" height="1" fill="#222"/><rect x="128.6" y="315.4" width="1" height="1" fill="#111"/><rect x="126.2" y="314.1" width="1" height="1" fill="#333"/><rect x="126.9" y="313.2" width="1" height="1" fill="#222"/><rect x="127.6" y="309.2" width="1" height="1" fill="#333"/><rect x="126.1" y="315.1" width="1" height="1" fill="#444"/><rect x="130.1" y="314.2" width="1" height="1" fill="#333"/><rect x="130.6" y="312.4" width="1" height="1" fill="#111"/><rect x="126.3" y="315.0" width="1" height="1" fill="#333"/><rect x="127.2" y="313.2" width="1" height="1" fill="#333"/><rect x="128.5" y="315.0" width="1" height="1" fill="#333"/><rect x="126.8" y="311.7" width="1" height="1" fill="#111"/><rect x="127.7" y="311.1" width="1" height="1" fill="#666"/><rect x="130.7" y="313.0" width="1" height="1" fill="#111"/><rect x="128.9" y="313.2" width="1" height="1" fill="#666"/><rect x="126.2" y="310.7" width="1" height="1" fill="#333"/><rect x="132.7" y="314.7" width="1" height="1" fill="#666"/><rect x="128.5" y="316.1" width="1" height="1" fill="#333"/><rect x="126.6" y="316.0" width="1" height="1" fill="#333"/><rect x="127.9" y="315.2" width="1" height="1" fill="#444"/><rect x="128.9" y="313.4" width="1" height="1" fill="#222"/><rect x="126.8" y="313.5" width="1" height="1" fill="#666"/><rect x="129.0" y="312.6" width="1" height="1" fill="#222"/><rect x="128.7" y="314.8" width="1" height="1" fill="#444"/><rect x="129.5" y="315.5" width="1" height="1" fill="#222"/><rect x="128.4" y="315.4" width="1" height="1" fill="#111"/><rect x="127.3" y="316.3" width="1" height="1" fill="#666"/><rect x="126.3" y="314.7" width="1" height="1" fill="#444"/><rect x="129.8" y="316.9" width="1" height="1" fill="#222"/><rect x="128.0" y="315.7" width="1" height="1" fill="#111"/><rect x="130.0" y="314.2" width="1" height="1" fill="#333"/><rect x="128.6" y="316.2" width="1" height="1" fill="#222"/><rect x="131.4" y="317.0" width="1" height="1" fill="#444"/><rect x="128.7" y="315.7" width="1" height="1" fill="#333"/><rect x="129.6" y="310.2" width="1" height="1" fill="#111"/><rect x="128.3" y="316.0" width="1" height="1" fill="#444"/><rect x="129.5" y="313.6" width="1" height="1" fill="#111"/><rect x="131.4" y="317.7" width="1" height="1" fill="#666"/><rect x="131.0" y="309.1" width="1" height="1" fill="#222"/><rect x="126.5" y="312.5" width="1" height="1" fill="#222"/><rect x="130.6" y="313.7" width="1" height="1" fill="#444"/><rect x="130.6" y="316.3" width="1" height="1" fill="#111"/><rect x="126.5" y="312.5" width="1" height="1" fill="#111"/><rect x="127.7" y="312.6" width="1" height="1" fill="#222"/><rect x="128.7" y="312.1" width="1" height="1" fill="#444"/><rect x="126.6" y="313.1" width="1" height="1" fill="#111"/><rect x="128.3" y="319.7" width="1" height="1" fill="#222"/><rect x="127.7" y="315.3" width="1" height="1" fill="#666"/><rect x="129.8" y="314.2" width="1" height="1" fill="#444"/><rect x="126.6" y="316.3" width="1" height="1" fill="#222"/><rect x="128.3" y="314.5" width="1" height="1" fill="#222"/><rect x="129.1" y="314.7" width="1" height="1" fill="#333"/>
</g>
<ellipse cx="140.4" cy="292.6" rx="2.6" ry="1.8" fill="#888" opacity="0.6"/>
<rect x="140.8" y="292.4" width="0.9" height="0.9" fill="#444" opacity="1.0"/><rect x="141.5" y="291.1" width="0.9" height="0.9" fill="#444" opacity="1.0"/><rect x="140.8" y="292.5" width="0.9" height="0.9" fill="#444" opacity="1.0"/><rect x="138.8" y="292.6" width="0.9" height="0.9" fill="#444" opacity="1.0"/><rect x="137.8" y="292.2" width="0.9" height="0.9" fill="#444" opacity="1.0"/><rect x="139.7" y="291.1" width="0.9" height="0.9" fill="#444" opacity="1.0"/><rect x="139.8" y="292.2" width="0.9" height="0.9" fill="#444" opacity="1.0"/><rect x="139.2" y="294.2" width="0.9" height="0.9" fill="#444" opacity="1.0"/><rect x="141.4" y="292.7" width="0.9" height="0.9" fill="#444" opacity="1.0"/><rect x="140.7" y="293.9" width="0.9" height="0.9" fill="#444" opacity="1.0"/><rect x="140.5" y="293.3" width="0.9" height="0.9" fill="#444" opacity="1.0"/><rect x="139.7" y="294.4" width="0.9" height="0.9" fill="#444" opacity="1.0"/><rect x="141.5" y="293.1" width="0.9" height="0.9" fill="#444" opacity="1.0"/><rect x="137.7" y="290.7" width="0.9" height="0.9" fill="#444" opacity="1.0"/><rect x="136.9" y="292.4" width="0.9" height="0.9" fill="#444" opacity="1.0"/><rect x="141.7" y="292.7" width="0.9" height="0.9" fill="#444" opacity="1.0"/><rect x="140.4" y="292.0" width="0.9" height="0.9" fill="#444" opacity="1.0"/><rect x="141.8" y="292.4" width="0.9" height="0.9" fill="#444" opacity="1.0"/><rect x="138.1" y="293.0" width="0.9" height="0.9" fill="#444" opacity="1.0"/><rect x="140.6" y="293.3" width="0.9" height="0.9" fill="#444" opacity="1.0"/><rect x="139.7" y="291.2" width="0.9" height="0.9" fill="#444" opacity="1.0"/><rect x="140.4" y="292.4" width="0.9" height="0.9" fill="#444" opacity="1.0"/><rect x="140.4" y="292.8" width="0.9" height="0.9" fill="#444" opacity="1.0"/><rect x="139.0" y="291.1" width="0.9" height="0.9" fill="#444" opacity="1.0"/>
<rect x="138.2" y="296.4" width="0.9" height="0.9" fill="#999" opacity="1.0"/><rect x="138.8" y="292.7" width="0.9" height="0.9" fill="#999" opacity="1.0"/><rect x="140.1" y="295.9" width="0.9" height="0.9" fill="#999" opacity="1.0"/><rect x="139.4" y="296.5" width="0.9" height="0.9" fill="#999" opacity="1.0"/><rect x="140.0" y="297.0" width="0.9" height="0.9" fill="#999" opacity="1.0"/><rect x="140.0" y="294.5" width="0.9" height="0.9" fill="#999" opacity="1.0"/><rect x="139.1" y="294.3" width="0.9" height="0.9" fill="#999" opacity="1.0"/><rect x="139.2" y="294.5" width="0.9" height="0.9" fill="#999" opacity="1.0"/>
<rect x="160.8" y="292.9" width="0.9" height="0.9" fill="#aaa" opacity="1.0"/><rect x="160.3" y="292.5" width="0.9" height="0.9" fill="#aaa" opacity="1.0"/><rect x="158.9" y="293.1" width="0.9" height="0.9" fill="#aaa" opacity="1.0"/><rect x="159.4" y="295.9" width="0.9" height="0.9" fill="#aaa" opacity="1.0"/><rect x="158.3" y="293.9" width="0.9" height="0.9" fill="#aaa" opacity="1.0"/><rect x="160.6" y="295.8" width="0.9" height="0.9" fill="#aaa" opacity="1.0"/><rect x="159.3" y="294.4" width="0.9" height="0.9" fill="#aaa" opacity="1.0"/><rect x="157.7" y="294.2" width="0.9" height="0.9" fill="#aaa" opacity="1.0"/><rect x="161.5" y="294.0" width="0.9" height="0.9" fill="#aaa" opacity="1.0"/><rect x="162.6" y="294.4" width="0.9" height="0.9" fill="#aaa" opacity="1.0"/><rect x="159.6" y="294.6" width="0.9" height="0.9" fill="#aaa" opacity="1.0"/><rect x="161.0" y="293.4" width="0.9" height="0.9" fill="#aaa" opacity="1.0"/><rect x="160.5" y="291.1" width="0.9" height="0.9" fill="#aaa" opacity="1.0"/><rect x="161.7" y="292.9" width="0.9" height="0.9" fill="#aaa" opacity="1.0"/>
</g>
<text x="122.9" y="323.0" font-size="3.3" fill="#777" text-anchor="end">10<tspan font-size="2.2" dy="-1.2">0</tspan></text>
<text x="126.5" y="326.8" font-size="3.3" fill="#777" text-anchor="middle">10<tspan font-size="2.2" dy="-1.2">0</tspan></text>
<text x="122.9" y="310.7" font-size="3.3" fill="#777" text-anchor="end">10<tspan font-size="2.2" dy="-1.2">1</tspan></text>
<text x="142.3" y="326.8" font-size="3.3" fill="#777" text-anchor="middle">10<tspan font-size="2.2" dy="-1.2">1</tspan></text>
<text x="122.9" y="298.4" font-size="3.3" fill="#777" text-anchor="end">10<tspan font-size="2.2" dy="-1.2">2</tspan></text>
<text x="158.1" y="326.8" font-size="3.3" fill="#777" text-anchor="middle">10<tspan font-size="2.2" dy="-1.2">2</tspan></text>
<text x="122.9" y="286.1" font-size="3.3" fill="#777" text-anchor="end">10<tspan font-size="2.2" dy="-1.2">3</tspan></text>
<text x="173.9" y="326.8" font-size="3.3" fill="#777" text-anchor="middle">10<tspan font-size="2.2" dy="-1.2">3</tspan></text>
<text x="126.9" y="275.5" font-size="3" fill="#555">1.00</text>
<text x="189.20000000000002" y="275.5" font-size="3" fill="#555" text-anchor="end">0.11</text>
<text x="126.9" y="321.4" font-size="3" fill="#333">97.14</text>
<text x="189.20000000000002" y="321.4" font-size="3" fill="#555" text-anchor="end">0.09</text>
<text x="62" y="341.9" font-size="8.4" text-anchor="middle">CD8 depletion</text>
<g filter="url(#soft)">
<line x1="29.4" y1="347.8" x2="95.8" y2="347.8" stroke="#888" stroke-width="0.9"/>
<line x1="95.8" y1="347.8" x2="95.8" y2="398.0" stroke="#999" stroke-width="0.9"/>
<line x1="29.4" y1="398.0" x2="95.8" y2="398.0" stroke="#bbb" stroke-width="0.8"/>
<line x1="29.4" y1="347.8" x2="29.4" y2="398.0" stroke="#444" stroke-width="1"/>
<line x1="51.8" y1="347.8" x2="51.8" y2="398.0" stroke="#555" stroke-width="1"/>
<line x1="29.4" y1="383.3" x2="95.8" y2="383.3" stroke="#666" stroke-width="0.9"/>
<rect x="44.7" y="378.3" width="0.7" height="0.7" fill="#ccc"/>
<rect x="46.2" y="392.8" width="0.7" height="0.7" fill="#ccc"/>
<rect x="32.6" y="387.8" width="0.7" height="0.7" fill="#ccc"/>
<rect x="33.4" y="383.3" width="0.7" height="0.7" fill="#ccc"/>
<rect x="40.0" y="385.8" width="0.7" height="0.7" fill="#ccc"/>
<rect x="45.9" y="391.4" width="0.7" height="0.7" fill="#ccc"/>
<rect x="46.4" y="359.3" width="0.7" height="0.7" fill="#ccc"/>
<rect x="40.5" y="354.2" width="0.7" height="0.7" fill="#ccc"/>
<rect x="48.5" y="366.3" width="0.7" height="0.7" fill="#ccc"/>
<rect x="44.1" y="360.0" width="0.7" height="0.7" fill="#ccc"/>
<rect x="35.7" y="389.3" width="0.7" height="0.7" fill="#ccc"/>
<rect x="39.9" y="386.1" width="0.7" height="0.7" fill="#ccc"/>
<rect x="42.4" y="374.9" width="0.7" height="0.7" fill="#ccc"/>
<rect x="38.6" y="360.4" width="0.7" height="0.7" fill="#ccc"/>
<rect x="38.9" y="380.6" width="0.7" height="0.7" fill="#ccc"/>
<rect x="40.3" y="376.2" width="0.7" height="0.7" fill="#ccc"/>
<rect x="34.4" y="371.4" width="0.7" height="0.7" fill="#ccc"/>
<rect x="33.3" y="356.8" width="0.7" height="0.7" fill="#ccc"/>
<clipPath id="cp2"><rect x="29.4" y="347.8" width="66.40" height="50.20"/></clipPath><g clip-path="url(#cp2)">
<ellipse cx="34.6" cy="390.9" rx="4.6" ry="4.0" fill="#888" opacity="0.4"/>
<ellipse cx="32.6" cy="391.9" rx="3.6" ry="3.2" fill="#333" opacity="0.7"/>
<rect x="31.5" y="390.2" width="1" height="1" fill="#444"/><rect x="34.7" y="391.4" width="1" height="1" fill="#444"/><rect x="30.7" y="392.5" width="1" height="1" fill="#444"/><rect x="33.3" y="388.9" width="1" height="1" fill="#666"/><rect x="32.5" y="388.5" width="1" height="1" fill="#111"/><rect x="30.5" y="389.4" width="1" height="1" fill="#333"/><rect x="32.6" y="390.5" width="1" height="1" fill="#333"/><rect x="30.7" y="393.1" width="1" height="1" fill="#222"/><rect x="30.2" y="393.3" width="1" height="1" fill="#666"/><rect x="30.4" y="392.2" width="1" height="1" fill="#333"/><rect x="33.6" y="391.3" width="1" height="1" fill="#222"/><rect x="30.8" y="390.5" width="1" height="1" fill="#444"/><rect x="31.4" y="391.3" width="1" height="1" fill="#444"/><rect x="31.6" y="390.2" width="1" height="1" fill="#444"/><rect x="30.7" y="391.0" width="1" height="1" fill="#333"/><rect x="30.1" y="392.2" width="1" height="1" fill="#666"/><rect x="33.9" y="390.9" width="1" height="1" fill="#111"/><rect x="34.2" y="394.9" width="1" height="1" fill="#444"/><rect x="34.1" y="388.9" width="1" height="1" fill="#111"/><rect x="33.2" y="393.4" width="1" height="1" fill="#666"/><rect x="30.5" y="391.9" width="1" height="1" fill="#333"/><rect x="31.3" y="392.7" width="1" height="1" fill="#333"/><rect x="34.7" y="392.3" width="1" height="1" fill="#222"/><rect x="32.2" y="387.3" width="1" height="1" fill="#444"/><rect x="30.8" y="390.0" width="1" height="1" fill="#333"/><rect x="30.7" y="391.7" width="1" height="1" fill="#444"/><rect x="31.0" y="391.1" width="1" height="1" fill="#111"/><rect x="31.3" y="388.0" width="1" height="1" fill="#222"/><rect x="30.8" y="390.6" width="1" height="1" fill="#222"/><rect x="31.9" y="392.5" width="1" height="1" fill="#333"/><rect x="31.5" y="389.2" width="1" height="1" fill="#111"/><rect x="31.5" y="394.3" width="1" height="1" fill="#333"/><rect x="30.5" y="391.6" width="1" height="1" fill="#333"/><rect x="31.8" y="389.5" width="1" height="1" fill="#444"/><rect x="30.1" y="391.6" width="1" height="1" fill="#222"/><rect x="34.9" y="393.4" width="1" height="1" fill="#444"/><rect x="32.5" y="390.3" width="1" height="1" fill="#222"/><rect x="30.7" y="392.0" width="1" height="1" fill="#222"/><rect x="34.2" y="387.3" width="1" height="1" fill="#111"/><rect x="36.2" y="389.0" width="1" height="1" fill="#666"/><rect x="31.3" y="393.4" width="1" height="1" fill="#222"/><rect x="36.8" y="390.7" width="1" height="1" fill="#111"/><rect x="33.7" y="394.1" width="1" height="1" fill="#222"/><rect x="31.8" y="395.7" width="1" height="1" fill="#111"/><rect x="33.4" y="391.0" width="1" height="1" fill="#111"/><rect x="33.3" y="389.3" width="1" height="1" fill="#111"/><rect x="33.4" y="389.5" width="1" height="1" fill="#222"/><rect x="33.8" y="387.7" width="1" height="1" fill="#666"/><rect x="34.8" y="394.0" width="1" height="1" fill="#444"/><rect x="30.9" y="392.9" width="1" height="1" fill="#444"/><rect x="31.6" y="390.9" width="1" height="1" fill="#333"/><rect x="31.6" y="392.7" width="1" height="1" fill="#222"/><rect x="33.7" y="392.2" width="1" height="1" fill="#111"/><rect x="31.3" y="389.6" width="1" height="1" fill="#444"/><rect x="33.1" y="389.6" width="1" height="1" fill="#333"/><rect x="31.5" y="389.7" width="1" height="1" fill="#222"/><rect x="33.9" y="393.0" width="1" height="1" fill="#444"/><rect x="31.9" y="391.4" width="1" height="1" fill="#111"/><rect x="32.6" y="389.5" width="1" height="1" fill="#222"/><rect x="33.9" y="392.5" width="1" height="1" fill="#444"/><rect x="32.8" y="387.7" width="1" height="1" fill="#444"/><rect x="31.2" y="392.2" width="1" height="1" fill="#444"/><rect x="33.6" y="394.6" width="1" height="1" fill="#666"/><rect x="30.9" y="391.4" width="1" height="1" fill="#222"/><rect x="34.2" y="393.3" width="1" height="1" fill="#666"/><rect x="34.4" y="393.3" width="1" height="1" fill="#444"/><rect x="33.0" y="388.0" width="1" height="1" fill="#111"/><rect x="36.2" y="385.1" width="1" height="1" fill="#111"/><rect x="32.9" y="397.8" width="1" height="1" fill="#444"/><rect x="31.3" y="395.7" width="1" height="1" fill="#222"/><rect x="31.9" y="387.9" width="1" height="1" fill="#222"/><rect x="32.6" y="392.3" width="1" height="1" fill="#333"/><rect x="33.5" y="395.7" width="1" height="1" fill="#333"/><rect x="32.7" y="389.9" width="1" height="1" fill="#333"/><rect x="36.7" y="391.3" width="1" height="1" fill="#222"/><rect x="33.5" y="389.6" width="1" height="1" fill="#222"/><rect x="30.3" y="392.0" width="1" height="1" fill="#222"/><rect x="33.5" y="393.3" width="1" height="1" fill="#333"/><rect x="32.7" y="386.8" width="1" height="1" fill="#222"/><rect x="30.6" y="389.6" width="1" height="1" fill="#666"/><rect x="35.7" y="392.8" width="1" height="1" fill="#444"/><rect x="33.7" y="390.3" width="1" height="1" fill="#111"/><rect x="30.0" y="394.4" width="1" height="1" fill="#444"/><rect x="30.2" y="389.1" width="1" height="1" fill="#444"/><rect x="33.9" y="391.2" width="1" height="1" fill="#333"/><rect x="30.6" y="392.3" width="1" height="1" fill="#222"/><rect x="32.2" y="394.9" width="1" height="1" fill="#111"/><rect x="31.0" y="394.2" width="1" height="1" fill="#333"/><rect x="35.5" y="386.1" width="1" height="1" fill="#666"/><rect x="35.7" y="389.2" width="1" height="1" fill="#111"/>
</g>
<ellipse cx="44.2" cy="368.6" rx="2.2" ry="1.8" fill="#555" opacity="0.7"/>
<rect x="43.7" y="367.4" width="0.9" height="0.9" fill="#333" opacity="1.0"/><rect x="43.3" y="369.6" width="0.9" height="0.9" fill="#333" opacity="1.0"/><rect x="42.8" y="368.7" width="0.9" height="0.9" fill="#333" opacity="1.0"/><rect x="45.1" y="368.5" width="0.9" height="0.9" fill="#333" opacity="1.0"/><rect x="43.5" y="367.9" width="0.9" height="0.9" fill="#333" opacity="1.0"/><rect x="45.2" y="368.6" width="0.9" height="0.9" fill="#333" opacity="1.0"/><rect x="43.3" y="369.4" width="0.9" height="0.9" fill="#333" opacity="1.0"/><rect x="42.5" y="367.9" width="0.9" height="0.9" fill="#333" opacity="1.0"/><rect x="43.5" y="368.7" width="0.9" height="0.9" fill="#333" opacity="1.0"/><rect x="42.2" y="369.7" width="0.9" height="0.9" fill="#333" opacity="1.0"/><rect x="43.9" y="368.3" width="0.9" height="0.9" fill="#333" opacity="1.0"/><rect x="44.3" y="366.5" width="0.9" height="0.9" fill="#333" opacity="1.0"/><rect x="43.3" y="368.3" width="0.9" height="0.9" fill="#333" opacity="1.0"/><rect x="44.8" y="369.4" width="0.9" height="0.9" fill="#333" opacity="1.0"/><rect x="43.5" y="370.1" width="0.9" height="0.9" fill="#333" opacity="1.0"/><rect x="44.1" y="368.1" width="0.9" height="0.9" fill="#333" opacity="1.0"/><rect x="44.8" y="366.1" width="0.9" height="0.9" fill="#333" opacity="1.0"/><rect x="42.4" y="367.3" width="0.9" height="0.9" fill="#333" opacity="1.0"/><rect x="42.6" y="367.4" width="0.9" height="0.9" fill="#333" opacity="1.0"/><rect x="43.0" y="368.2" width="0.9" height="0.9" fill="#333" opacity="1.0"/><rect x="44.2" y="368.2" width="0.9" height="0.9" fill="#333" opacity="1.0"/><rect x="44.5" y="368.3" width="0.9" height="0.9" fill="#333" opacity="1.0"/><rect x="45.2" y="370.2" width="0.9" height="0.9" fill="#333" opacity="1.0"/><rect x="45.1" y="369.1" width="0.9" height="0.9" fill="#333" opacity="1.0"/><rect x="43.3" y="367.5" width="0.9" height="0.9" fill="#333" opacity="1.0"/><rect x="42.5" y="368.8" width="0.9" height="0.9" fill="#333" opacity="1.0"/><rect x="42.7" y="366.9" width="0.9" height="0.9" fill="#333" opacity="1.0"/><rect x="42.3" y="368.9" width="0.9" height="0.9" fill="#333" opacity="1.0"/>
</g>
<text x="26.8" y="398.8" font-size="3.3" fill="#777" text-anchor="end">10<tspan font-size="2.2" dy="-1.2">0</tspan></text>
<text x="30.4" y="402.6" font-size="3.3" fill="#777" text-anchor="middle">10<tspan font-size="2.2" dy="-1.2">0</tspan></text>
<text x="26.8" y="386.5" font-size="3.3" fill="#777" text-anchor="end">10<tspan font-size="2.2" dy="-1.2">1</tspan></text>
<text x="46.2" y="402.6" font-size="3.3" fill="#777" text-anchor="middle">10<tspan font-size="2.2" dy="-1.2">1</tspan></text>
<text x="26.8" y="374.2" font-size="3.3" fill="#777" text-anchor="end">10<tspan font-size="2.2" dy="-1.2">2</tspan></text>
<text x="62.0" y="402.6" font-size="3.3" fill="#777" text-anchor="middle">10<tspan font-size="2.2" dy="-1.2">2</tspan></text>
<text x="26.8" y="361.9" font-size="3.3" fill="#777" text-anchor="end">10<tspan font-size="2.2" dy="-1.2">3</tspan></text>
<text x="77.8" y="402.6" font-size="3.3" fill="#777" text-anchor="middle">10<tspan font-size="2.2" dy="-1.2">3</tspan></text>
<text x="30.799999999999997" y="351.0" font-size="3" fill="#555">0.91</text>
<text x="94.6" y="351.0" font-size="3" fill="#555" text-anchor="end">0.06</text>
<text x="30.799999999999997" y="397.2" font-size="3" fill="#333">98.11</text>
<text x="94.6" y="397.2" font-size="3" fill="#555" text-anchor="end">0.02</text>
<text x="157.9" y="342.2" font-size="8.4" text-anchor="middle">CD4/CD8 depletion</text>
<g filter="url(#soft)">
<line x1="125.5" y1="347.0" x2="191.5" y2="347.0" stroke="#888" stroke-width="0.9"/>
<line x1="191.5" y1="347.0" x2="191.5" y2="396.6" stroke="#999" stroke-width="0.9"/>
<line x1="125.5" y1="396.6" x2="191.5" y2="396.6" stroke="#bbb" stroke-width="0.8"/>
<line x1="125.5" y1="347.0" x2="125.5" y2="396.6" stroke="#444" stroke-width="1"/>
<line x1="148.2" y1="347.0" x2="148.2" y2="396.6" stroke="#555" stroke-width="1"/>
<line x1="125.5" y1="381.5" x2="191.5" y2="381.5" stroke="#777" stroke-width="0.9"/>
<rect x="137.0" y="355.6" width="0.7" height="0.7" fill="#ccc"/>
<rect x="139.2" y="393.4" width="0.7" height="0.7" fill="#ccc"/>
<rect x="141.0" y="372.4" width="0.7" height="0.7" fill="#ccc"/>
<rect x="137.6" y="368.2" width="0.7" height="0.7" fill="#ccc"/>
<rect x="135.7" y="390.0" width="0.7" height="0.7" fill="#ccc"/>
<rect x="129.0" y="379.6" width="0.7" height="0.7" fill="#ccc"/>
<rect x="130.8" y="393.5" width="0.7" height="0.7" fill="#ccc"/>
<rect x="132.4" y="379.1" width="0.7" height="0.7" fill="#ccc"/>
<rect x="129.8" y="389.2" width="0.7" height="0.7" fill="#ccc"/>
<rect x="144.8" y="391.3" width="0.7" height="0.7" fill="#ccc"/>
<rect x="132.4" y="355.1" width="0.7" height="0.7" fill="#ccc"/>
<rect x="139.4" y="380.6" width="0.7" height="0.7" fill="#ccc"/>
<rect x="140.3" y="390.2" width="0.7" height="0.7" fill="#ccc"/>
<rect x="145.7" y="365.0" width="0.7" height="0.7" fill="#ccc"/>
<rect x="144.9" y="389.3" width="0.7" height="0.7" fill="#ccc"/>
<rect x="129.1" y="373.6" width="0.7" height="0.7" fill="#ccc"/>
<rect x="130.7" y="389.7" width="0.7" height="0.7" fill="#ccc"/>
<rect x="143.2" y="361.2" width="0.7" height="0.7" fill="#ccc"/>
<clipPath id="cp3"><rect x="125.5" y="347.0" width="66.00" height="49.60"/></clipPath><g clip-path="url(#cp3)">
<ellipse cx="130.7" cy="389.1" rx="4.6" ry="4.0" fill="#888" opacity="0.4"/>
<ellipse cx="128.7" cy="390.1" rx="3.6" ry="3.2" fill="#333" opacity="0.7"/>
<rect x="130.2" y="394.1" width="1" height="1" fill="#222"/><rect x="128.3" y="388.1" width="1" height="1" fill="#222"/><rect x="130.9" y="392.8" width="1" height="1" fill="#666"/><rect x="132.5" y="390.5" width="1" height="1" fill="#111"/><rect x="128.4" y="387.6" width="1" height="1" fill="#222"/><rect x="128.7" y="388.7" width="1" height="1" fill="#222"/><rect x="129.6" y="391.6" width="1" height="1" fill="#666"/><rect x="127.7" y="388.9" width="1" height="1" fill="#111"/><rect x="129.7" y="391.8" width="1" height="1" fill="#222"/><rect x="127.2" y="390.7" width="1" height="1" fill="#111"/><rect x="127.9" y="389.9" width="1" height="1" fill="#111"/><rect x="127.9" y="385.9" width="1" height="1" fill="#111"/><rect x="129.7" y="386.4" width="1" height="1" fill="#222"/><rect x="128.7" y="385.6" width="1" height="1" fill="#111"/><rect x="130.3" y="386.8" width="1" height="1" fill="#444"/><rect x="127.9" y="390.6" width="1" height="1" fill="#111"/><rect x="134.2" y="390.8" width="1" height="1" fill="#111"/><rect x="128.3" y="386.6" width="1" height="1" fill="#333"/><rect x="127.9" y="389.8" width="1" height="1" fill="#222"/><rect x="126.9" y="391.7" width="1" height="1" fill="#333"/><rect x="128.7" y="389.8" width="1" height="1" fill="#333"/><rect x="131.6" y="390.8" width="1" height="1" fill="#333"/><rect x="126.7" y="386.4" width="1" height="1" fill="#444"/><rect x="128.9" y="386.9" width="1" height="1" fill="#111"/><rect x="126.3" y="389.0" width="1" height="1" fill="#666"/><rect x="126.6" y="387.4" width="1" height="1" fill="#111"/><rect x="128.4" y="389.2" width="1" height="1" fill="#111"/><rect x="128.6" y="388.7" width="1" height="1" fill="#444"/><rect x="128.4" y="389.6" width="1" height="1" fill="#111"/><rect x="130.0" y="389.7" width="1" height="1" fill="#444"/><rect x="128.2" y="385.4" width="1" height="1" fill="#444"/><rect x="133.2" y="386.3" width="1" height="1" fill="#666"/><rect x="126.6" y="395.3" width="1" height="1" fill="#333"/><rect x="129.3" y="384.4" width="1" height="1" fill="#222"/><rect x="127.7" y="389.6" width="1" height="1" fill="#111"/><rect x="136.5" y="390.0" width="1" height="1" fill="#666"/><rect x="127.2" y="386.3" width="1" height="1" fill="#333"/><rect x="132.6" y="392.7" width="1" height="1" fill="#111"/><rect x="130.4" y="391.2" width="1" height="1" fill="#333"/><rect x="126.8" y="391.4" width="1" height="1" fill="#666"/><rect x="129.4" y="389.6" width="1" height="1" fill="#222"/><rect x="127.8" y="389.2" width="1" height="1" fill="#666"/><rect x="126.3" y="385.6" width="1" height="1" fill="#111"/><rect x="127.9" y="391.3" width="1" height="1" fill="#222"/><rect x="128.6" y="387.7" width="1" height="1" fill="#666"/><rect x="126.2" y="388.1" width="1" height="1" fill="#444"/><rect x="127.1" y="387.9" width="1" height="1" fill="#222"/><rect x="128.8" y="391.5" width="1" height="1" fill="#222"/><rect x="128.8" y="389.5" width="1" height="1" fill="#666"/><rect x="127.2" y="390.8" width="1" height="1" fill="#222"/><rect x="126.9" y="386.4" width="1" height="1" fill="#333"/><rect x="127.7" y="391.4" width="1" height="1" fill="#222"/><rect x="126.6" y="395.6" width="1" height="1" fill="#111"/><rect x="128.6" y="392.6" width="1" height="1" fill="#222"/><rect x="133.4" y="394.2" width="1" height="1" fill="#333"/><rect x="126.5" y="387.0" width="1" height="1" fill="#222"/><rect x="131.9" y="392.9" width="1" height="1" fill="#333"/><rect x="127.0" y="391.9" width="1" height="1" fill="#111"/><rect x="132.8" y="390.0" width="1" height="1" fill="#444"/><rect x="127.5" y="386.9" width="1" height="1" fill="#333"/><rect x="127.9" y="389.9" width="1" height="1" fill="#666"/><rect x="126.1" y="389.3" width="1" height="1" fill="#222"/><rect x="129.1" y="388.2" width="1" height="1" fill="#666"/><rect x="130.3" y="387.8" width="1" height="1" fill="#222"/><rect x="128.5" y="386.6" width="1" height="1" fill="#666"/><rect x="129.2" y="386.7" width="1" height="1" fill="#111"/><rect x="128.9" y="390.2" width="1" height="1" fill="#111"/><rect x="128.1" y="388.5" width="1" height="1" fill="#444"/><rect x="127.2" y="386.3" width="1" height="1" fill="#333"/><rect x="128.4" y="387.4" width="1" height="1" fill="#111"/><rect x="128.6" y="387.9" width="1" height="1" fill="#222"/><rect x="128.5" y="388.3" width="1" height="1" fill="#111"/><rect x="129.1" y="391.4" width="1" height="1" fill="#111"/><rect x="130.2" y="390.3" width="1" height="1" fill="#222"/><rect x="127.9" y="383.8" width="1" height="1" fill="#222"/><rect x="127.7" y="389.5" width="1" height="1" fill="#666"/><rect x="128.3" y="390.0" width="1" height="1" fill="#444"/><rect x="130.9" y="389.3" width="1" height="1" fill="#333"/><rect x="129.6" y="389.3" width="1" height="1" fill="#444"/><rect x="127.4" y="393.1" width="1" height="1" fill="#444"/><rect x="134.0" y="389.1" width="1" height="1" fill="#666"/><rect x="126.8" y="390.2" width="1" height="1" fill="#333"/><rect x="127.0" y="390.2" width="1" height="1" fill="#111"/><rect x="129.2" y="390.8" width="1" height="1" fill="#333"/><rect x="127.5" y="389.0" width="1" height="1" fill="#333"/><rect x="126.5" y="383.9" width="1" height="1" fill="#666"/><rect x="136.8" y="388.2" width="1" height="1" fill="#444"/><rect x="128.1" y="389.9" width="1" height="1" fill="#111"/><rect x="127.9" y="386.4" width="1" height="1" fill="#444"/><rect x="129.5" y="386.6" width="1" height="1" fill="#222"/>
</g>
<rect x="129.0" y="379.1" width="0.9" height="0.9" fill="#ccc" opacity="1.0"/><rect x="133.9" y="367.9" width="0.9" height="0.9" fill="#ccc" opacity="1.0"/><rect x="129.1" y="375.2" width="0.9" height="0.9" fill="#ccc" opacity="1.0"/><rect x="130.1" y="373.9" width="0.9" height="0.9" fill="#ccc" opacity="1.0"/><rect x="133.0" y="371.3" width="0.9" height="0.9" fill="#ccc" opacity="1.0"/><rect x="132.9" y="372.0" width="0.9" height="0.9" fill="#ccc" opacity="1.0"/><rect x="129.9" y="376.7" width="0.9" height="0.9" fill="#ccc" opacity="1.0"/><rect x="129.8" y="375.7" width="0.9" height="0.9" fill="#ccc" opacity="1.0"/><rect x="136.3" y="374.7" width="0.9" height="0.9" fill="#ccc" opacity="1.0"/><rect x="131.1" y="377.5" width="0.9" height="0.9" fill="#ccc" opacity="1.0"/>
</g>
<text x="122.9" y="397.4" font-size="3.3" fill="#777" text-anchor="end">10<tspan font-size="2.2" dy="-1.2">0</tspan></text>
<text x="126.5" y="401.2" font-size="3.3" fill="#777" text-anchor="middle">10<tspan font-size="2.2" dy="-1.2">0</tspan></text>
<text x="122.9" y="385.1" font-size="3.3" fill="#777" text-anchor="end">10<tspan font-size="2.2" dy="-1.2">1</tspan></text>
<text x="142.3" y="401.2" font-size="3.3" fill="#777" text-anchor="middle">10<tspan font-size="2.2" dy="-1.2">1</tspan></text>
<text x="122.9" y="372.8" font-size="3.3" fill="#777" text-anchor="end">10<tspan font-size="2.2" dy="-1.2">2</tspan></text>
<text x="158.1" y="401.2" font-size="3.3" fill="#777" text-anchor="middle">10<tspan font-size="2.2" dy="-1.2">2</tspan></text>
<text x="122.9" y="360.5" font-size="3.3" fill="#777" text-anchor="end">10<tspan font-size="2.2" dy="-1.2">3</tspan></text>
<text x="173.9" y="401.2" font-size="3.3" fill="#777" text-anchor="middle">10<tspan font-size="2.2" dy="-1.2">3</tspan></text>
<text x="126.9" y="350.2" font-size="3" fill="#555">0.23</text>
<text x="190.3" y="350.2" font-size="3" fill="#555" text-anchor="end">0.06</text>
<text x="126.9" y="395.8" font-size="3" fill="#333">98.43</text>
<text x="190.3" y="395.8" font-size="3" fill="#555" text-anchor="end">0.06</text>
<path d="M5.8,414 V376" stroke="#111" stroke-width="1.2" fill="none"/>
<path d="M5.8,373 L3.3,378.3 H8.3 Z" fill="#111"/>
<path d="M5.2,414 H43" stroke="#111" stroke-width="1.2" fill="none"/>
<path d="M47,414 L41.5,411.5 V416.5 Z" fill="#111"/>
<text transform="translate(8.6,358.2) rotate(-90)" style="font-family:'Liberation Serif',serif" font-size="8.4" text-anchor="middle">CD3</text>
<text x="53.4" y="417.2" style="font-family:'Liberation Serif',serif" font-size="8.4">CD8</text>
<text x="222.5" y="256.4" font-size="11" font-weight="bold">D</text>
<line x1="237.3" y1="338.4" x2="503" y2="338.4" stroke="#111" stroke-width="1.6"/>
<line x1="238.4" y1="318.6" x2="238.4" y2="335.4" stroke="#111" stroke-width="1.1"/><path d="M236.00,333.20 H240.80 L238.4,338.00 Z" fill="#111"/>
<line x1="268.8" y1="318.6" x2="268.8" y2="335.4" stroke="#111" stroke-width="1.1"/><path d="M266.40,333.20 H271.20 L268.8,338.00 Z" fill="#111"/>
<line x1="299.4" y1="318.6" x2="299.4" y2="335.4" stroke="#111" stroke-width="1.1"/><path d="M297.00,333.20 H301.80 L299.4,338.00 Z" fill="#111"/>
<line x1="329.6" y1="318.6" x2="329.6" y2="335.4" stroke="#111" stroke-width="1.1"/><path d="M327.20,333.20 H332.00 L329.6,338.00 Z" fill="#111"/>
<line x1="345.4" y1="318.6" x2="345.4" y2="335.4" stroke="#111" stroke-width="1.1"/><path d="M343.00,333.20 H347.80 L345.4,338.00 Z" fill="#111"/>
<line x1="360.4" y1="318.6" x2="360.4" y2="335.4" stroke="#111" stroke-width="1.1"/><path d="M358.00,333.20 H362.80 L360.4,338.00 Z" fill="#111"/>
<line x1="375.6" y1="318.6" x2="375.6" y2="335.4" stroke="#111" stroke-width="1.1"/><path d="M373.20,333.20 H378.00 L375.6,338.00 Z" fill="#111"/>
<line x1="446.9" y1="318.6" x2="446.9" y2="335.4" stroke="#111" stroke-width="1.1"/><path d="M444.50,333.20 H449.30 L446.9,338.00 Z" fill="#111"/>
<line x1="501.9" y1="318.6" x2="501.9" y2="335.4" stroke="#111" stroke-width="1.1"/><path d="M499.50,333.20 H504.30 L501.9,338.00 Z" fill="#111"/>
<path d="M329.6,318.6 H360.4" stroke="#111" stroke-width="1.1" fill="none"/>
<line x1="360.4" y1="361.5" x2="360.4" y2="385" stroke="#111" stroke-width="1.1"/><path d="M358.00,363.70 H362.80 L360.4,358.5 Z" fill="#111"/>
<line x1="404.3" y1="361.5" x2="404.3" y2="383.5" stroke="#111" stroke-width="1.1"/><path d="M401.90,363.70 H406.70 L404.3,358.5 Z" fill="#111"/>
<line x1="468" y1="359" x2="468" y2="381.5" stroke="#111" stroke-width="1.1"/><path d="M465.60,361.20 H470.40 L468,356 Z" fill="#111"/>
<rect x="481.7" y="336" width="2.2" height="5" fill="#fff"/>
<line x1="477.1" y1="344.5" x2="488" y2="328.5" stroke="#111" stroke-width="1"/>
<line x1="479.2" y1="345.8" x2="490" y2="329.8" stroke="#111" stroke-width="1"/>
<text transform="translate(238.4,314.4) rotate(-29)" font-size="8.7">1<tspan font-size="5.6" dy="-3.2">st</tspan><tspan dy="3.2"> Vac</tspan></text>
<text transform="translate(262.4,315.6) rotate(-29)" font-size="8.7">2<tspan font-size="5.6" dy="-3.2">nd</tspan><tspan dy="3.2"> Vac</tspan></text>
<text transform="translate(290.0,314.6) rotate(-29)" font-size="8.7">3<tspan font-size="5.6" dy="-3.2">rd</tspan><tspan dy="3.2"> Vac</tspan></text>
<text transform="translate(338.0,317.3) rotate(-28)" font-size="8.7">T-cell depletion</text>
<text transform="translate(367.2,318.6) rotate(-28.5)" font-size="8.5">Tumor challenge</text>
<text transform="translate(434.6,320.0) rotate(-27.5)" font-size="8.3">T-cell depletion</text>
<text transform="translate(490.0,320.2) rotate(-27.5)" font-size="8.7">End point</text>
<text x="203.6" y="354.8" font-size="8.5">Days</text>
<text x="237" y="357.1" font-size="10.1" text-anchor="middle">-42</text>
<text x="270" y="357.1" font-size="10.1" text-anchor="middle">-28</text>
<text x="297.7" y="357.1" font-size="10.1" text-anchor="middle">-14</text>
<text x="330" y="357.1" font-size="10.1" text-anchor="middle">-7</text>
<text x="345" y="357.1" font-size="10.1" text-anchor="middle">-5</text>
<text x="358.6" y="357.1" font-size="10.1" text-anchor="middle">-3</text>
<text x="374.6" y="357.1" font-size="10.1" text-anchor="middle">0</text>
<text x="405.2" y="357.1" font-size="10.1" text-anchor="middle">5</text>
<text x="445.5" y="357.1" font-size="10.1" text-anchor="middle">20</text>
<text x="468.6" y="357.1" font-size="10.1" text-anchor="middle">25</text>
<text x="499.2" y="357.1" font-size="10.1" text-anchor="middle">80</text>
<text x="410.5" y="399.3" font-size="8.45" text-anchor="middle">Check peripheral blood T cell population</text>
</svg>
</body></html>
